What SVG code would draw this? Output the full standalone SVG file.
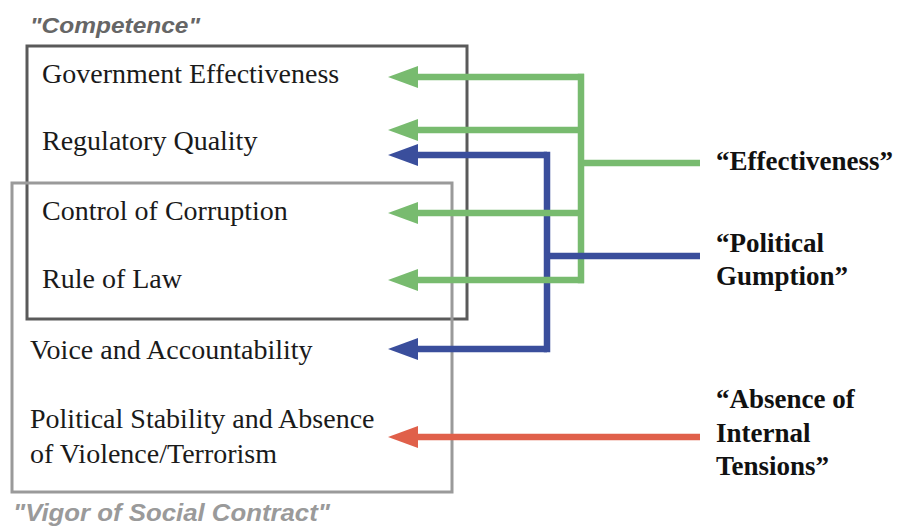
<svg xmlns="http://www.w3.org/2000/svg" width="898" height="531" viewBox="0 0 898 531">
  <style>
    .item { font-family: "Liberation Serif", "Times New Roman", serif; font-size: 28px; fill: #1a1a1a; }
    .factor { font-family: "Liberation Serif", "Times New Roman", serif; font-size: 27px; font-weight: bold; fill: #111; }
    .group { font-family: "Liberation Sans", Arial, sans-serif; font-style: italic; font-weight: bold; }
    .box { fill: none; stroke-width: 3; }
    .conn { fill: none; stroke-width: 6.5; stroke-linecap: butt; }
    .green { stroke: #78bb6f; }
    .blue { stroke: #3a4e9c; }
    .red { stroke: #e0604a; }
  </style>
  <defs>
    <marker id="ahG" markerUnits="userSpaceOnUse" markerWidth="30" markerHeight="22" viewBox="0 0 30 22" refX="0" refY="11" orient="auto">
      <path d="M0,0 L30,11 L0,22 Z" fill="#78bb6f"/>
    </marker>
    <marker id="ahB" markerUnits="userSpaceOnUse" markerWidth="30" markerHeight="22" viewBox="0 0 30 22" refX="0" refY="11" orient="auto">
      <path d="M0,0 L30,11 L0,22 Z" fill="#3a4e9c"/>
    </marker>
    <marker id="ahR" markerUnits="userSpaceOnUse" markerWidth="30" markerHeight="22" viewBox="0 0 30 22" refX="0" refY="11" orient="auto">
      <path d="M0,0 L30,11 L0,22 Z" fill="#e0604a"/>
    </marker>
  </defs>
  <rect width="898" height="531" fill="#ffffff"/>

  <g id="competence">
    <rect class="box" x="27" y="46" width="440" height="273" stroke="#5a5a5a"/>
    <text class="group" x="30" y="33" font-size="22" fill="#666666" textLength="170" lengthAdjust="spacingAndGlyphs">"Competence"</text>
  </g>
  <g id="vigor">
    <rect class="box" x="12" y="183" width="440" height="309" stroke="#9a9a9a"/>
    <text class="group" x="13" y="521" font-size="24" fill="#9a9a9a" textLength="317" lengthAdjust="spacingAndGlyphs">"Vigor of Social Contract"</text>
  </g>

  <g id="gov-effectiveness"><text class="item" x="42" y="83">Government Effectiveness</text></g>
  <g id="regulatory-quality"><text class="item" x="42" y="150">Regulatory Quality</text></g>
  <g id="control-corruption"><text class="item" x="42" y="220">Control of Corruption</text></g>
  <g id="rule-of-law"><text class="item" x="42" y="288">Rule of Law</text></g>
  <g id="voice-accountability"><text class="item" x="30" y="359">Voice and Accountability</text></g>
  <g id="political-stability">
    <text class="item" x="30" y="428">Political Stability and Absence</text>
    <text class="item" x="30" y="463">of Violence/Terrorism</text>
  </g>

  <g id="effectiveness"><text class="factor" x="716" y="170">“Effectiveness”</text></g>
  <g id="political-gumption">
    <text class="factor" x="716" y="252">“Political</text>
    <text class="factor" x="716" y="285">Gumption”</text>
  </g>
  <g id="absence-tensions">
    <text class="factor" x="716" y="408">“Absence of</text>
    <text class="factor" x="716" y="442">Internal</text>
    <text class="factor" x="716" y="475">Tensions”</text>
  </g>

  <g id="connectors">
    <path class="conn green" d="M581,73.75 V283.25" />
    <path class="conn green" d="M700,163 H581" />
    <path class="conn blue" d="M547,151.75 V352.25" />
    <path class="conn blue" d="M700,256 H547" />
    <path class="conn blue" d="M547,155 H418" marker-end="url(#ahB)"/>
    <path class="conn blue" d="M547,349 H418" marker-end="url(#ahB)"/>
    <path class="conn green" d="M584,77 H418" marker-end="url(#ahG)"/>
    <path class="conn green" d="M581,130 H418" marker-end="url(#ahG)"/>
    <path class="conn green" d="M581,213 H418" marker-end="url(#ahG)"/>
    <path class="conn green" d="M584,280 H418" marker-end="url(#ahG)"/>
    <path class="conn red" d="M700,437 H418" marker-end="url(#ahR)"/>
  </g>
</svg>
